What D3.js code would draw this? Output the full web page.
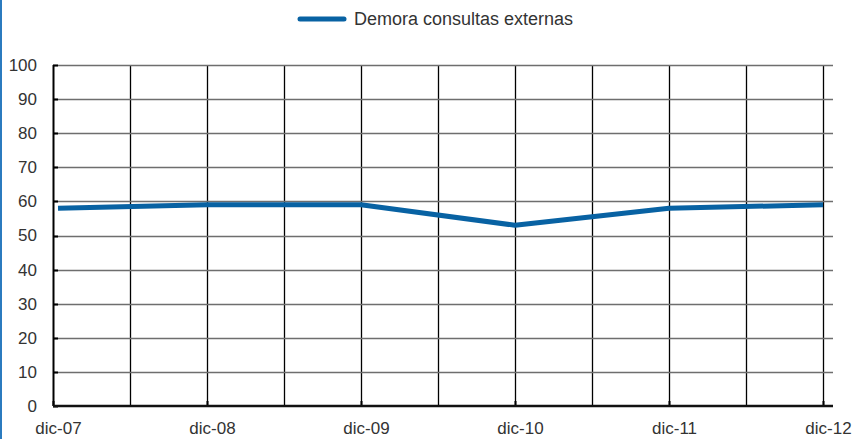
<!DOCTYPE html>
<html lang="es">
<head>
<meta charset="utf-8">
<title>Demora consultas externas</title>
<script src="https://d3js.org/d3.v7.min.js"></script>
<style>
  body { margin: 0; background: #fff; }
  text { font-family: "Liberation Sans", Arial, sans-serif; fill: #333; }
</style>
</head>
<body>
<div id="chart"></div>
<script>
// data
const periods = ["dic-07", "dic-08", "dic-09", "dic-10", "dic-11", "dic-12"];
const demora = [58, 59, 59, 53, 58, 59];
const yTicks = [0, 10, 20, 30, 40, 50, 60, 70, 80, 90, 100];
const seriesName = "Demora consultas externas";

const W = 854, H = 439;
const margin = {top: 65, right: 21, bottom: 33, left: 53};
const width = W - margin.left - margin.right,
      height = H - margin.top - margin.bottom;

const svg = d3.select("#chart").append("svg")
  .attr("width", W).attr("height", H);

// blue bar at the left edge
svg.append("rect").attr("x", 0).attr("y", 0).attr("width", 2).attr("height", H)
  .attr("fill", "#2b7bbf");

const g = svg.append("g").attr("transform", `translate(${margin.left},${margin.top})`);

const x = d3.scalePoint().domain(periods).range([0, width - 10]);
const y = d3.scaleLinear().domain([0, 100]).range([height, 0]);

const step = x.step();
// vertical grid every half period
const halfs = d3.range(1, periods.length * 2 - 1).map(i => Math.round(i * step / 2) + 0.5);
g.selectAll(".vgrid").data(halfs).join("line")
  .attr("x1", d => d).attr("x2", d => d)
  .attr("y1", 0).attr("y2", height)
  .attr("stroke", "#000").attr("stroke-width", 1.3);

// horizontal grid
g.selectAll(".hgrid").data(yTicks.slice(1)).join("line")
  .attr("x1", 0).attr("x2", width)
  .attr("y1", d => Math.round(y(d)) + 0.5).attr("y2", d => Math.round(y(d)) + 0.5)
  .attr("stroke", "#6e6e6e").attr("stroke-width", 1.5);

// y axis
const yAxis = g.append("g").call(d3.axisLeft(y).tickValues(yTicks).tickSize(0).tickPadding(16));
yAxis.select(".domain").remove();
yAxis.selectAll("text").style("font-size", "17px").attr("fill", "#333")
  .style("font-family", "Liberation Sans, Arial, sans-serif");
g.selectAll(".ytick").data(yTicks).join("line")
  .attr("x1", 0).attr("x2", 5)
  .attr("y1", d => Math.round(y(d)) + 0.5).attr("y2", d => Math.round(y(d)) + 0.5)
  .attr("stroke", "#000").attr("stroke-width", 2);
g.append("line").attr("x1", 0.5).attr("x2", 0.5).attr("y1", 0).attr("y2", height)
  .attr("stroke", "#000").attr("stroke-width", 2);

// x axis
const xAxis = g.append("g").attr("transform", `translate(0,${height})`)
  .call(d3.axisBottom(x).tickSize(0).tickPadding(16));
xAxis.select(".domain").remove();
xAxis.selectAll("text").style("font-size", "17px").attr("fill", "#333").attr("dx", 5)
  .style("font-family", "Liberation Sans, Arial, sans-serif");
g.selectAll(".xtick").data(periods).join("line")
  .attr("x1", d => x(d) + 0.5).attr("x2", d => x(d) + 0.5)
  .attr("y1", height).attr("y2", height - 5)
  .attr("stroke", "#000").attr("stroke-width", 2);
g.append("line").attr("x1", 0).attr("x2", width).attr("y1", height).attr("y2", height)
  .attr("stroke", "#111").attr("stroke-width", 2.5);

// series line
const line = d3.line().x((d, i) => x(periods[i]) + (i === 0 ? 5 : 0)).y(d => y(d));
g.append("path").datum(demora)
  .attr("d", line)
  .attr("fill", "none")
  .attr("stroke", "#0862a3")
  .attr("stroke-width", 5)
  .attr("stroke-linejoin", "round");

// legend
const lg = svg.append("g").attr("transform", "translate(298,19)");
lg.append("line").attr("x1", 2).attr("x2", 46).attr("y1", 0).attr("y2", 0)
  .attr("stroke", "#0862a3").attr("stroke-width", 5).attr("stroke-linecap", "round");
lg.append("text").attr("x", 56).attr("y", 0).attr("dy", "0.35em")
  .style("font-size", "18px").text(seriesName);
</script>
</body>
</html>
